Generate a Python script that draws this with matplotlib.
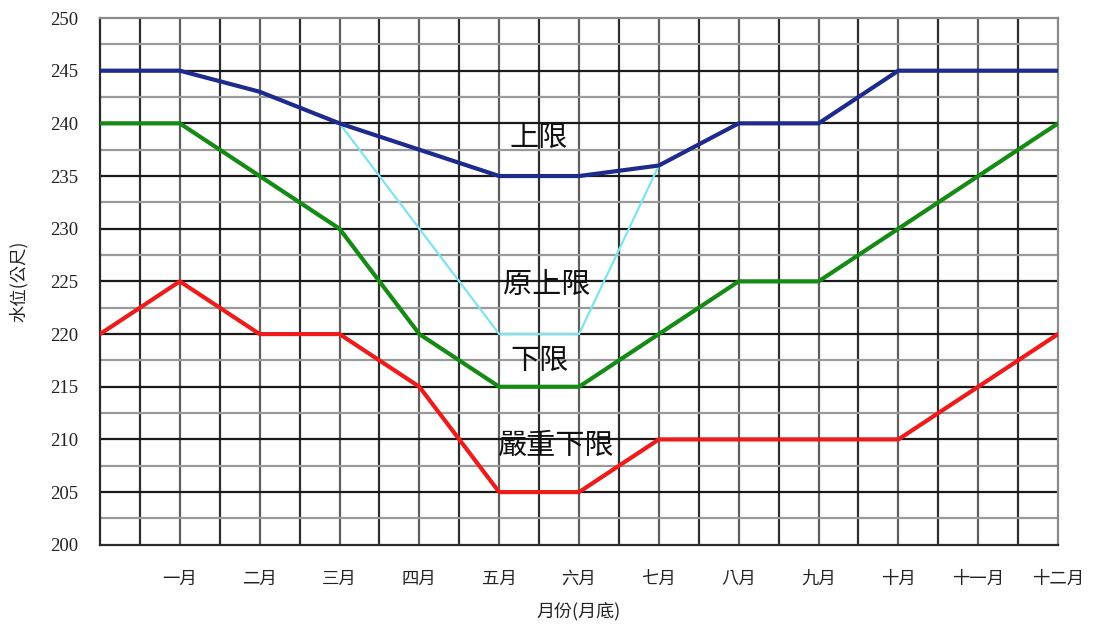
import matplotlib
matplotlib.use("Agg")
import matplotlib.pyplot as plt
import numpy as np

plt.rcParams['font.family'] = ['Noto Sans CJK TC', 'DejaVu Sans']

# Month-end positions (0 = start of year)
months = list(range(13))
month_labels = ["一月", "二月", "三月", "四月", "五月", "六月",
                "七月", "八月", "九月", "十月", "十一月", "十二月"]

# Reservoir operating rule curves (water level, m)
upper_limit = [245, 245, 243, 240, 237.5, 235, 235, 236, 240, 240, 245, 245, 245]
orig_upper_limit = [245, 245, 243, 240, 230, 220, 220, 236, 240, 240, 245, 245, 245]
lower_limit = [240, 240, 235, 230, 220, 215, 215, 220, 225, 225, 230, 235, 240]
severe_lower_limit = [220, 225, 220, 220, 215, 205, 205, 210, 210, 210, 210, 215, 220]

fig = plt.figure(figsize=(10.93, 6.32), dpi=100)
ax = fig.add_axes([0.0915, 0.138, 0.8765, 0.8335])

ax.set_xlim(0, 12)
ax.set_ylim(200, 250)

# Grid: half-month verticals, 2.5 m horizontals
for xv in np.arange(0.5, 12, 0.5):
    ax.axvline(xv, color='#2e2e2e' if xv % 1 else '#5e5e5e', lw=1.6, zorder=1)
for yv in np.arange(202.5, 250, 2.5):
    major = (yv % 5 == 0)
    ax.axhline(yv, color='#1a1a1a' if major else '#9a9a9a', lw=1.6, zorder=1)

ax.plot(months, orig_upper_limit, color='#7fe3f0', lw=1.6, zorder=3)
ax.plot(months, upper_limit, color='#1f2b8c', lw=3.0, zorder=4)
ax.plot(months, lower_limit, color='#158a15', lw=3.0, zorder=4)
ax.plot(months, severe_lower_limit, color='#ee1b1b', lw=3.0, zorder=4)

for s in ax.spines.values():
    s.set_linewidth(1.6)
    s.set_color('#2a2a2a')
ax.spines['top'].set_color('#8a8a8a')
ax.spines['right'].set_color('#8a8a8a')

ax.set_xticks(months[1:])
ax.set_xticklabels(month_labels, fontsize=12.5, color='#222222')
ax.set_yticks(np.arange(200, 251, 5))
ax.set_yticklabels([str(v) for v in range(200, 251, 5)],
                   family=['Liberation Serif'], fontsize=13.5, color='#222222')
ax.tick_params(axis='x', length=0, pad=18)
ax.tick_params(axis='y', length=0, pad=16)

ax.set_xlabel("月份(月底)", fontsize=13, labelpad=10, color='#222222')
ax.set_ylabel("水位(公尺)", fontsize=12.5, labelpad=16, color='#222222')

label_kw = dict(fontsize=21, ha='center', va='center', zorder=5, color='#111111')
ax.text(5.5, 238.6, "上限", **label_kw)
ax.text(5.6, 224.7, "原上限", **label_kw)
ax.text(5.5, 217.4, "下限", **label_kw)
ax.text(5.7, 209.4, "嚴重下限", **label_kw)

fig.savefig("out.png", dpi=100)
